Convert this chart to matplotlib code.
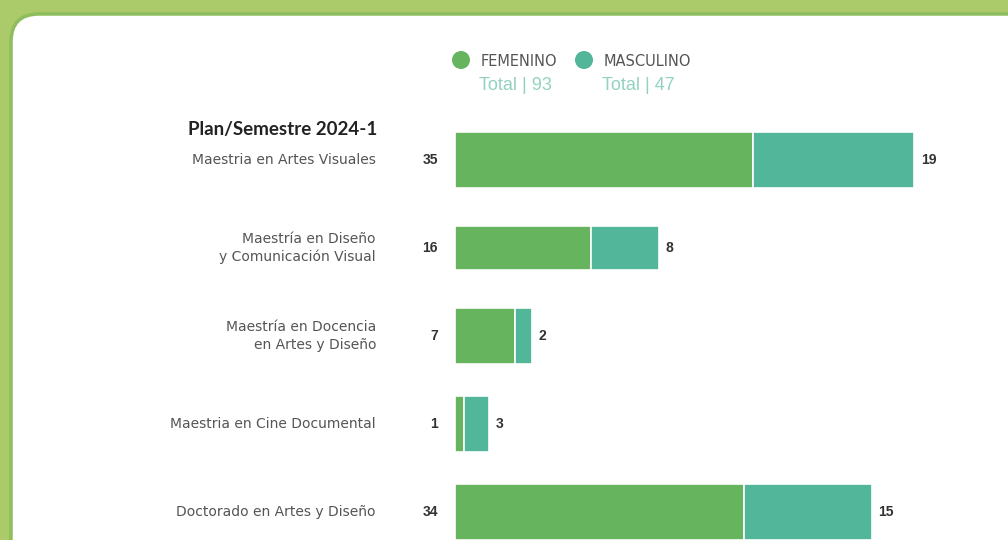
import matplotlib
matplotlib.use('Agg')
import matplotlib.pyplot as plt
from matplotlib.patches import FancyBboxPatch, Circle


# Datos
programas = ["Maestria en Artes Visuales",
             "Maestría en Diseño\ny Comunicación Visual",
             "Maestría en Docencia\nen Artes y Diseño",
             "Maestria en Cine Documental",
             "Doctorado en Artes y Diseño"]
femenino = [35, 16, 7, 1, 34]
masculino = [19, 8, 2, 3, 15]
titulo = "Plan/Semestre 2024-1"

VERDE = "#66b55e"
TURQUESA = "#52b69a"
FONDO = "#abcb6a"

plt.rcParams['font.family'] = ['Liberation Sans', 'DejaVu Sans']

W, H = 1008, 540
fig = plt.figure(figsize=(W / 100, H / 100), dpi=100, facecolor=FONDO)

# Capa de fondo en pixeles
bg = fig.add_axes([0, 0, 1, 1])
bg.set_xlim(0, W)
bg.set_ylim(H, 0)
bg.axis("off")
bg.add_patch(FancyBboxPatch((11, 14), W + 60, H + 60,
                            boxstyle="round,pad=0,rounding_size=28",
                            facecolor="white", edgecolor="#8dbd5c", linewidth=2.5))

# Leyenda
for cx, nombre, total, color in [(461, "FEMENINO", sum(femenino), VERDE),
                                 (584, "MASCULINO", sum(masculino), TURQUESA)]:
    bg.add_patch(Circle((cx, 60), 9, facecolor=color, edgecolor="none"))
    bg.text(cx + 20, 61, nombre, fontsize=10.5, color="#555555", va="center", ha="left",
            family="DejaVu Sans")
    bg.text(cx + 18, 86, "Total | %d" % total, fontsize=13, color="#93d2c0",
            va="center", ha="left")

bg.text(188, 129, titulo, fontsize=13.5, fontweight="bold", color="#222222",
        va="center", ha="left", family="Lato")

# Barras: 0 en x=455 px, 8.5 px por unidad; categorias cada 88 px desde y=160
ax = fig.add_axes([455 / W, 0, 510 / W, 424 / H])
ax.set_xlim(0, 60)
ax.set_ylim(4.318, -0.5)
ax.axis("off")

pos = list(range(len(programas)))
alturas = [0.64, 0.49, 0.64, 0.64, 0.64]
ax.barh(pos, femenino, height=alturas, color=VERDE, edgecolor="white", linewidth=1.2)
ax.barh(pos, masculino, left=femenino, height=alturas, color=TURQUESA,
        edgecolor="white", linewidth=1.2)

for i in pos:
    ax.annotate(programas[i], xy=(0, i), xytext=(-79, 0), textcoords="offset pixels",
                ha="right", va="center", fontsize=10, color="#555555",
                family="DejaVu Sans", multialignment="right", linespacing=1.3)
    ax.annotate(str(femenino[i]), xy=(0, i), xytext=(-17, 0), textcoords="offset pixels",
                ha="right", va="center", fontsize=10, fontweight="bold", color="#333333")
    ax.annotate(str(masculino[i]), xy=(femenino[i] + masculino[i], i), xytext=(7, 0),
                textcoords="offset pixels", ha="left", va="center", fontsize=10,
                fontweight="bold", color="#333333")

fig.savefig("out.png", dpi=100, facecolor=FONDO)
